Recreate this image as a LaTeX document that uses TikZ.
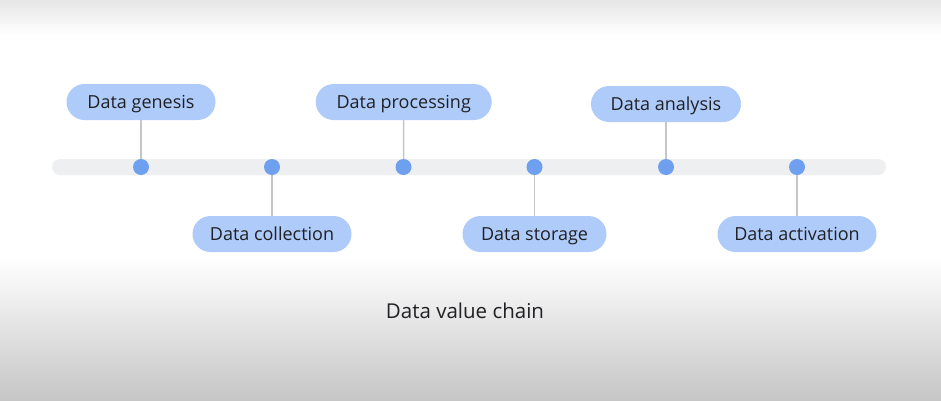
\documentclass[tikz,border=0pt]{standalone}
\usepackage{fontspec}
\setmainfont{Open Sans}
\definecolor{boxblue}{HTML}{AECBFA}
\definecolor{dotblue}{HTML}{6FA0F0}
\definecolor{barg}{HTML}{EEEFF0}
\definecolor{lineg}{HTML}{C6C6C6}
\definecolor{txt}{HTML}{202124}
\definecolor{topg}{HTML}{E6E6E6}
\definecolor{botg}{HTML}{C6C6C6}
\begin{document}
\begin{tikzpicture}[x=1pt,y=-1pt,
  labelbox/.style={fill=boxblue, rounded corners=18pt, minimum height=36pt, inner xsep=0pt, inner ysep=0pt, text height=13.5pt, text depth=0.5pt, text=txt, font=\fontsize{18}{21}\selectfont},
  dotnode/.style={circle, fill=dotblue, minimum size=16pt, inner sep=0pt},
  conn/.style={draw=lineg, line width=1.5pt}]
\useasboundingbox (0,0) rectangle (941,400);
\fill[white] (0,0) rectangle (941,400);
\shade[top color=topg, bottom color=white] (0,0) rectangle (941,35);
\shade[top color=white, bottom color=botg] (0,258) rectangle (941,400);
\fill[barg, rounded corners=8pt] (52,159) rectangle (886,175);
\node[labelbox, minimum width=149pt] (g) at (141,102) {Data genesis};
\node[labelbox, minimum width=159pt] (c) at (272,234) {Data collection};
\node[labelbox, minimum width=176pt] (p) at (403.7,102) {Data processing};
\node[labelbox, minimum width=144pt] (s) at (534.5,234) {Data storage};
\node[labelbox, minimum width=150pt] (a) at (666,104) {Data analysis};
\node[labelbox, minimum width=159pt] (v) at (797,234) {Data activation};
\node[dotnode] (d1) at (141,167) {};
\node[dotnode] (d2) at (272,167) {};
\node[dotnode] (d3) at (403.5,167) {};
\node[dotnode] (d4) at (534.5,167) {};
\node[dotnode] (d5) at (666,167) {};
\node[dotnode] (d6) at (797,167) {};
\draw[conn] (g.south) -- (d1);
\draw[conn] (c.north) -- (d2);
\draw[conn] (p.south) -- (d3);
\draw[conn] (s.north) -- (d4);
\draw[conn] (a.south) -- (d5);
\draw[conn] (v.north) -- (d6);
\node[text=txt, font=\fontsize{20.5}{24}\selectfont] (title) at (465,311) {Data value chain};
\end{tikzpicture}
\end{document}
